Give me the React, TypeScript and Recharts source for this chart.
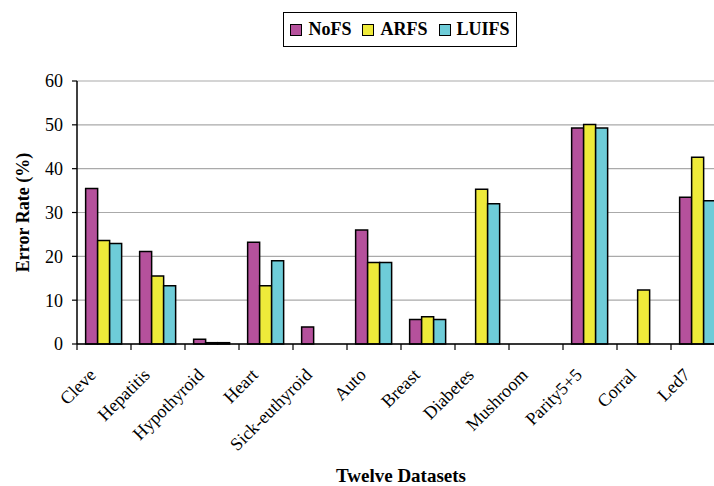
import React from 'react';
import { Bar, BarChart, CartesianGrid, Legend, Text, XAxis, YAxis } from 'recharts';

const datasets = [
  'Cleve', 'Hepatitis', 'Hypothyroid', 'Heart', 'Sick-euthyroid', 'Auto',
  'Breast', 'Diabetes', 'Mushroom', 'Parity5+5', 'Corral', 'Led7'
];
const nofs = [35.5, 21.1, 1.1, 23.2, 3.9, 26.0, 5.6, 0, 0, 49.3, 0, 33.5];
const arfs = [23.6, 15.5, 0.3, 13.3, 0, 18.6, 6.2, 35.3, 0, 50.1, 12.3, 42.6];
const luifs = [22.9, 13.3, 0.3, 19.0, 0, 18.6, 5.6, 32.0, 0, 49.3, 0, 32.7];
const yTicks = [0, 10, 20, 30, 40, 50, 60];

const seriesList = [
  { key: 'NoFS', color: '#B5519C' },
  { key: 'ARFS', color: '#EEEA3A' },
  { key: 'LUIFS', color: '#6ECCD8' }
];

const data = datasets.map((name, i) => ({
  name,
  NoFS: nofs[i],
  ARFS: arfs[i],
  LUIFS: luifs[i]
}));

const FONT = '"Liberation Serif", "Times New Roman", serif';
const BAND = 54;

// labels sit left of the category centre, tick marks on the category boundaries
const CategoryTick = (props: any) => {
  const { x, y, payload } = props;
  const tx = x - 7;
  const ty = y + 24;
  return (
    <g>
      <line x1={x - BAND / 2} y1={y - 8} x2={x - BAND / 2} y2={y - 2} stroke="#000" strokeWidth={1.2} />
      <Text
        x={tx}
        y={ty}
        angle={-45}
        textAnchor="end"
        verticalAnchor="end"
        fontSize={18}
        fontFamily={FONT}
        fill="#000"
      >
        {payload.value}
      </Text>
    </g>
  );
};

const LegendBox = () => (
  <div
    style={{
      border: '1px solid #000',
      display: 'flex',
      alignItems: 'center',
      justifyContent: 'center',
      height: 35,
      boxSizing: 'border-box',
      fontFamily: FONT,
      fontWeight: 'bold',
      fontSize: 18,
      gap: 11
    }}
  >
    {seriesList.map((s) => (
      <span key={s.key} style={{ display: 'flex', alignItems: 'center' }}>
        <span
          style={{
            width: 10,
            height: 10,
            background: s.color,
            border: '1px solid #000',
            marginRight: 6,
            display: 'inline-block'
          }}
        />
        {s.key}
      </span>
    ))}
  </div>
);

export default function App() {
  return (
    <div style={{ position: 'fixed', left: 0, top: 0, width: 714, height: 486, overflow: 'hidden', background: '#fff' }}>
      <BarChart
        width={740}
        height={486}
        data={data}
        margin={{ top: 81, right: 15, left: 0, bottom: 0 }}
        barCategoryGap="16%"
        barGap={0}
        style={{ fontFamily: FONT }}
      >
        <CartesianGrid vertical={false} stroke="#aaaaaa" strokeWidth={1.2} />
        <XAxis
          dataKey="name"
          height={142}
          interval={0}
          tickLine={false}
          tickSize={6}
          tickMargin={2}
          axisLine={{ stroke: '#000', strokeWidth: 1.5 }}
          tick={<CategoryTick />}
          label={{
            value: 'Twelve Datasets',
            position: 'insideBottom',
            offset: 4,
            fill: '#000',
            fontSize: 19,
            fontWeight: 'bold',
            fontFamily: FONT
          }}
        />
        <YAxis
          width={77}
          domain={[0, 60]}
          ticks={yTicks}
          interval={0}
          tickSize={5}
          tickMargin={9}
          axisLine={{ stroke: '#000', strokeWidth: 1.5 }}
          tickLine={{ stroke: '#000', strokeWidth: 1.2 }}
          tick={{ fill: '#000', fontSize: 18, fontFamily: FONT }}
          label={{
            value: 'Error Rate (%)',
            angle: -90,
            position: 'insideLeft',
            offset: 23,
            style: { textAnchor: 'middle' },
            fill: '#000',
            fontSize: 18,
            fontWeight: 'bold',
            fontFamily: FONT
          }}
        />
        <Legend
          layout="horizontal"
          verticalAlign="middle"
          align="center"
          wrapperStyle={{ top: 12, left: 283, width: 234 }}
          content={<LegendBox />}
        />
        {seriesList.map((s) => (
          <Bar
            key={s.key}
            dataKey={s.key}
            fill={s.color}
            stroke="#000"
            strokeWidth={1.5}
            isAnimationActive={false}
          />
        ))}
      </BarChart>
    </div>
  );
}
